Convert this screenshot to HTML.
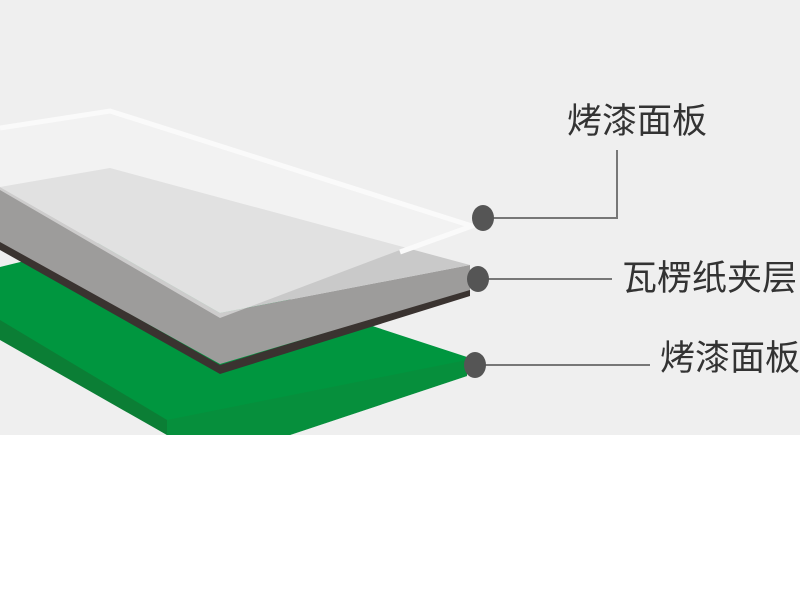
<!DOCTYPE html>
<html><head><meta charset="utf-8"><style>
html,body{margin:0;padding:0;width:800px;height:599px;overflow:hidden;background:#fff}
.t{position:absolute;font-family:"Liberation Sans","Noto Sans CJK SC",sans-serif;font-size:35px;color:#333;line-height:1;white-space:nowrap;letter-spacing:0px}
</style></head><body>
<svg width="800" height="599" style="position:absolute;left:0;top:0">
<rect x="0" y="0" width="800" height="435" fill="#efefef"/>
<!-- green sheet -->
<polygon points="0,267 110,240 467,357 467,376 290,435 167,435 0,335" fill="#00963f"/>
<polygon points="0,320 167,420 167,435 0,340" fill="#0b7e35"/>
<polygon points="167,420 467,360 467,376 290,435 167,435" fill="#0a8a3a" opacity="0.6"/>
<!-- dark bottom of middle -->
<polygon points="0,240 220,365 470,288 470,296 220,374 0,250" fill="#3a3330"/>
<!-- gray side -->
<polygon points="0,187 220,313 470,265 470,290 220,364 0,242" fill="#9d9c9b"/>
<!-- gray top face -->
<polygon points="0,187 110,168 470,265 220,313" fill="#c9c9c9"/>
<!-- glass -->
<polygon points="0,128 110,111 472,226 400,250 220,318 0,190" fill="#f4f4f4" opacity="0.55"/>
<polyline points="0,128 110,111 472,226 400,252" fill="none" stroke="#fafafa" stroke-width="5"/>
<!-- connectors -->
<g stroke="#777" stroke-width="2" fill="none">
<polyline points="490,218 617,218 617,150"/>
<line x1="488" y1="279" x2="612" y2="279"/>
<line x1="485" y1="365" x2="650" y2="365"/>
</g>
<g fill="#555">
<ellipse cx="483" cy="218" rx="11" ry="13"/>
<ellipse cx="478" cy="279" rx="11" ry="13"/>
<ellipse cx="475" cy="365" rx="11" ry="13"/>
</g>
</svg>
<div class="t" style="left:567px;top:104px">烤漆面板</div>
<div class="t" style="left:622px;top:261px">瓦楞纸夹层</div>
<div class="t" style="left:660px;top:341px">烤漆面板</div>
</body></html>
